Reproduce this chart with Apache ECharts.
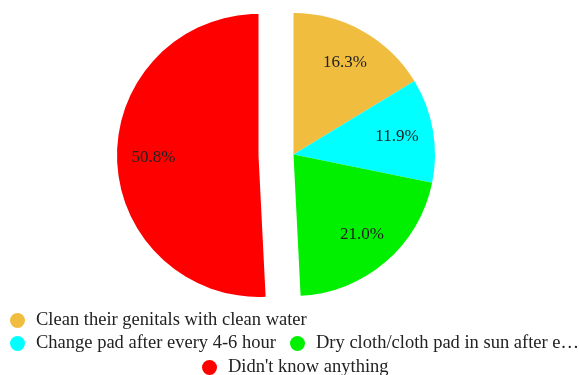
<!DOCTYPE html>
<html>
<head>
<meta charset="utf-8">
<style>
  html, body { margin: 0; padding: 0; background: #fff; }
  #chart { width: 579px; height: 375px; }
</style>
<script src="https://cdn.jsdelivr.net/npm/echarts@6/dist/echarts.min.js"></script>
</head>
<body>
<div id="chart"></div>
<script>
// Menstrual hygiene practices (share of respondents, %)
const categories = [
  'Clean their genitals with clean water',
  'Change pad after every 4-6 hour',
  'Dry cloth/cloth pad in sun after each use',
  "Didn't know anything"
];
const values = [16.3, 11.9, 21.0, 50.8];
const colors = ['#F1BD3F', '#00FFFF', '#00F000', '#FF0000'];
const highlighted = "Didn't know anything";

const FONT = '"Liberation Serif", "Times New Roman", serif';
const CENTER = [293.5, 154.5];
const R = 141.5;
const OFFSET = 35;

const pieData = categories.map((name, i) => ({
  name: name,
  value: values[i],
  selected: name === highlighted,
  itemStyle: { color: colors[i] }
}));

// transparent ring that only carries the percentage labels, so they sit at ~0.72 R
const labelData = categories.map((name, i) => ({
  name: name,
  value: values[i],
  selected: name === highlighted,
  itemStyle: { color: 'rgba(0,0,0,0)' }
}));

const legendText = {
  fontFamily: FONT,
  fontSize: 18.5,
  color: '#222',
  padding: [0, 0, 0, 6]
};

const legendBase = {
  padding: 0,
  icon: 'circle',
  itemWidth: 15,
  itemHeight: 15,
  selectedMode: false
};

// one legend block per legend entry, laid out in three rows
const chart = echarts.init(document.getElementById('chart'), null, { renderer: 'canvas' });
chart.setOption({
  animation: false,
  backgroundColor: '#fff',
  legend: [
    Object.assign({}, legendBase, {
      data: [categories[0]],
      left: 10, top: 311,
      textStyle: legendText
    }),
    Object.assign({}, legendBase, {
      data: [categories[1]],
      left: 10, top: 334,
      textStyle: legendText
    }),
    Object.assign({}, legendBase, {
      data: [categories[2]],
      left: 290, top: 334,
      textStyle: Object.assign({}, legendText, {
        width: 270, overflow: 'truncate', ellipsis: '…'
      })
    }),
    Object.assign({}, legendBase, {
      data: [categories[3]],
      left: 202, top: 358,
      textStyle: legendText
    })
  ],
  series: [
    {
      type: 'pie',
      center: CENTER,
      radius: R,
      startAngle: 90,
      clockwise: true,
      selectedMode: 'single',
      selectedOffset: OFFSET,
      avoidLabelOverlap: false,
      label: { show: false },
      labelLine: { show: false },
      emphasis: { disabled: true },
      data: pieData
    },
    {
      type: 'pie',
      center: CENTER,
      radius: [62.5, R],
      startAngle: 90,
      clockwise: true,
      selectedMode: 'single',
      selectedOffset: OFFSET,
      silent: true,
      avoidLabelOverlap: false,
      label: {
        show: true,
        position: 'inside',
        formatter: p => p.value.toFixed(1) + '%',
        fontFamily: FONT,
        fontSize: 17,
        color: '#222'
      },
      labelLine: { show: false },
      emphasis: { disabled: true },
      data: labelData
    }
  ]
});
</script>
</body>
</html>
